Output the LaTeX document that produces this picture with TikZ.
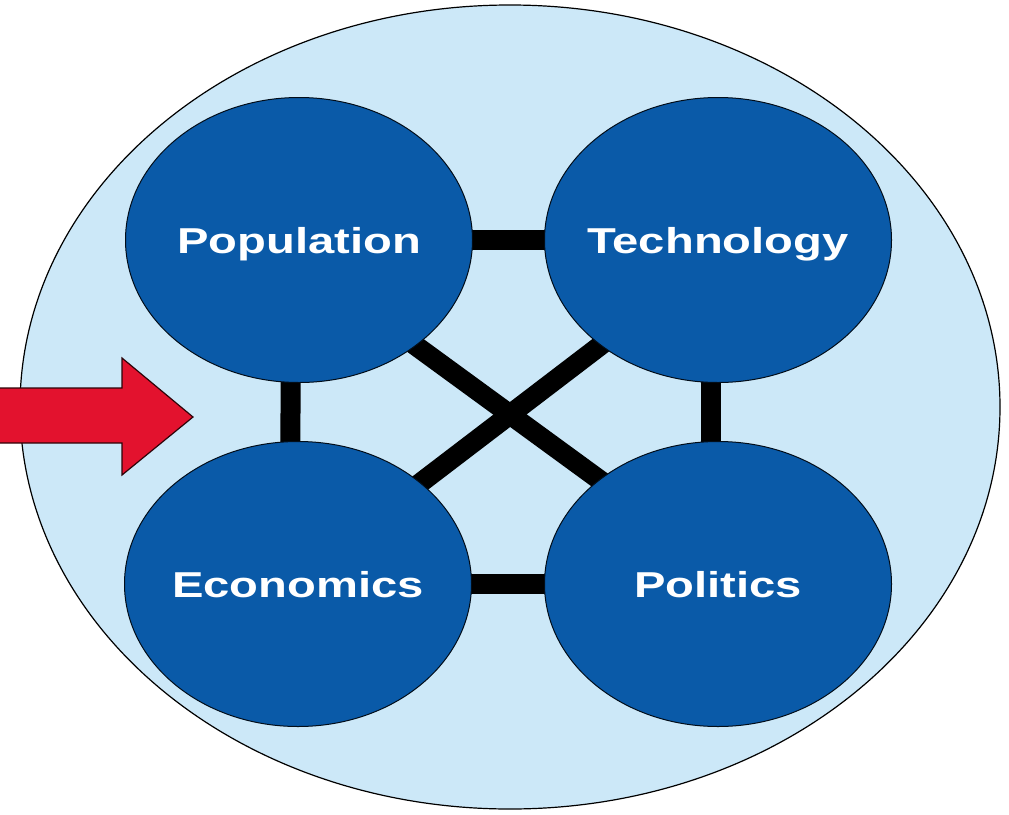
\documentclass[tikz,border=0pt]{standalone}
\usepackage{fontspec}
\newfontfamily\labelfont{Liberation Sans}[FakeStretch=1.31]
\usetikzlibrary{shapes.geometric,calc}
\pgfdeclarelayer{back}
\pgfdeclarelayer{links}
\pgfsetlayers{back,links,main}

\definecolor{paleblue}{HTML}{CCE8F8}
\definecolor{deepblue}{HTML}{0A5AA8}
\definecolor{arrowred}{HTML}{E3122E}

\tikzset{
  field/.style={ellipse, draw=black, line width=1.2pt, fill=paleblue, inner sep=0pt,
    minimum width=980pt, minimum height=804pt},
  % negative x padding keeps the wide labels from enlarging the ellipses
  factor/.style={ellipse, draw=black!85!deepblue, line width=1pt, fill=deepblue,
    inner ysep=0pt, inner xsep=-60pt,
    minimum width=347pt, minimum height=285pt,
    font=\labelfont\bfseries\fontsize{36}{40}\selectfont, text=white,
    text height=26pt, text depth=0pt},
  link/.style={line width=20pt, black},
  bigarrow/.style={fill=arrowred, draw=black!80!arrowred, line width=1.2pt, line join=miter}
}

\begin{document}
\begin{tikzpicture}[x=1pt, y=-1pt]
  \useasboundingbox (0,0) rectangle (1009,814);

  % the four factors
  \node[factor] (pop)  at (299,240) {Population};
  \node[factor] (tech) at (718,240) {Technology};
  \node[factor] (eco)  at (298,584) {Economics};
  \node[factor] (pol)  at (718,584) {Politics};

  % surrounding field
  \begin{pgfonlayer}{back}
    \node[field] (env) at (510,407) {};
  \end{pgfonlayer}

  % links between the factors
  \begin{pgfonlayer}{links}
    \draw[link] (pop.center) -- (tech.center);
    \draw[link] (eco.center) -- (pol.center);
    \draw[link] ([xshift=-8pt]pop.center) -- ([xshift=-8pt]eco.center);
    \draw[link] ([xshift=-7pt]tech.center) -- ([xshift=-7pt]pol.center);
    \draw[link] ($(pop.center)+(61,65)$) -- ($(pol.center)+(-58,-60)$);
    \draw[link] ($(eco.center)+(62,-55)$) -- ($(tech.center)+(-58,60)$);
  \end{pgfonlayer}

  % incoming arrow
  \draw[bigarrow] (-5,388) -- (122,388) -- (122,358) -- (193,417)
                  -- (122,475) -- (122,443) -- (-5,443) -- cycle;
\end{tikzpicture}
\end{document}
